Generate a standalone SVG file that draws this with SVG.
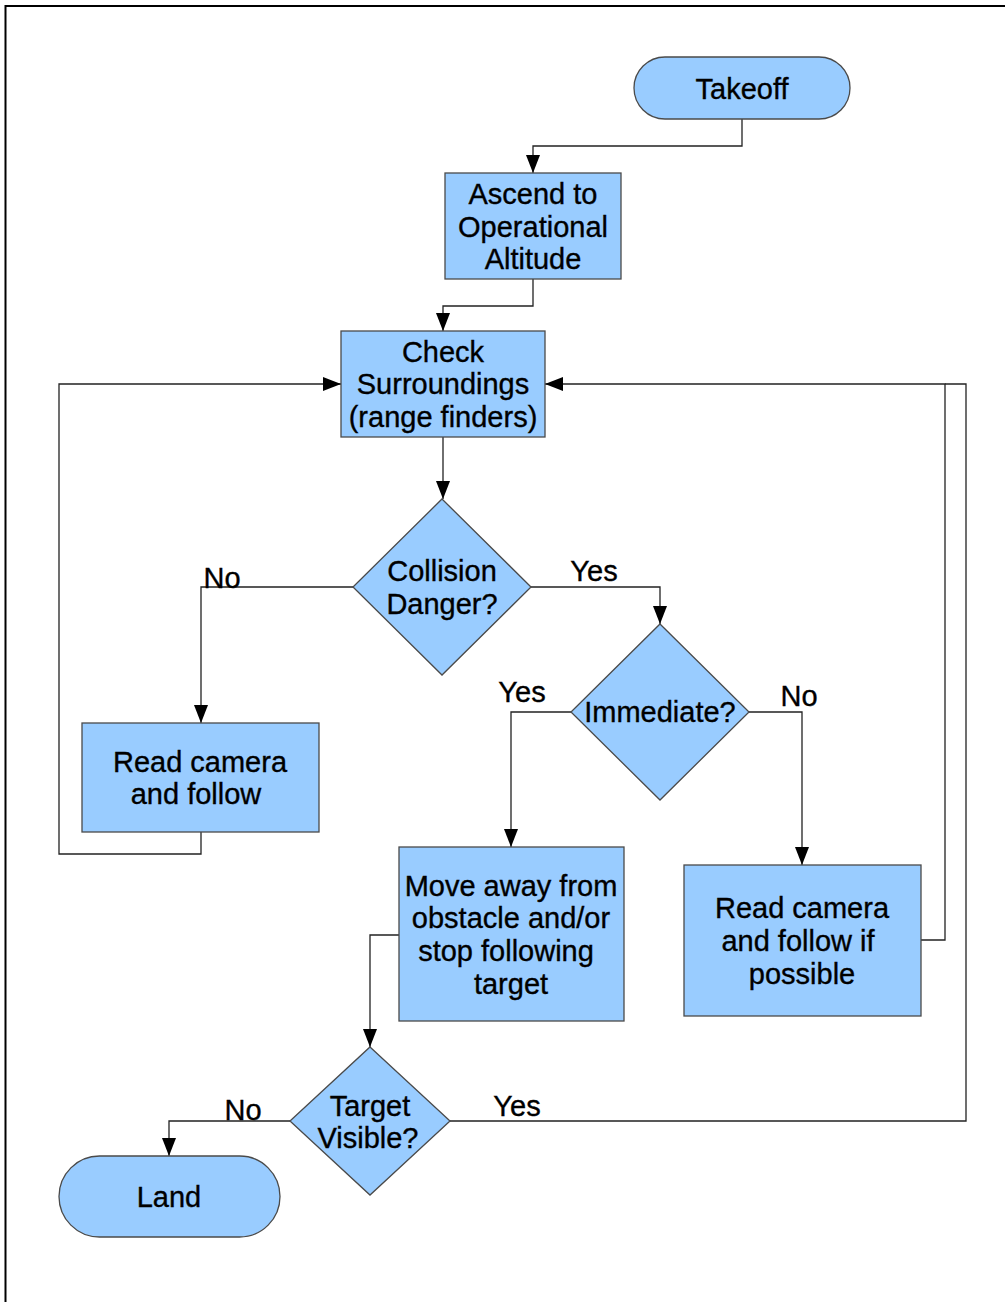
<svg xmlns="http://www.w3.org/2000/svg" width="1005" height="1302" viewBox="0 0 1005 1302">
  <defs>
    <marker id="arrow" markerUnits="userSpaceOnUse" markerWidth="18" markerHeight="14" refX="18" refY="7" orient="auto">
      <path d="M0,0 L18,7 L0,14 z" fill="#000"/>
    </marker>
    <style>
      .shape { fill: #99ccff; stroke: #4a4a4a; stroke-width: 1.3; }
      .label { font-family: "Liberation Sans", Arial, sans-serif; font-size: 29px; fill: #000; stroke: #000; stroke-width: 0.35; text-anchor: middle; }
      .edge { fill: none; stroke: #222; stroke-width: 1.3; }
      .edge-arrow { marker-end: url(#arrow); }
    </style>
  </defs>

  <rect width="1005" height="1302" fill="#fff"/>
  <!-- page frame -->
  <path d="M5.5,1302 V6 H1005" fill="none" stroke="#000" stroke-width="2"/>

  <g id="connectors">
    <path class="edge edge-arrow" d="M742,119 V146 H533 V173"/>
    <path class="edge edge-arrow" d="M533,279 V306 H443 V331"/>
    <path class="edge edge-arrow" d="M443,437 V499"/>
    <path class="edge edge-arrow" d="M353,587 H201 V723"/>
    <path class="edge edge-arrow" d="M531,587 H660 V624"/>
    <path class="edge edge-arrow" d="M571,712 H511 V847"/>
    <path class="edge edge-arrow" d="M749,712 H802 V865"/>
    <path class="edge edge-arrow" d="M201,832 V854 H59 V384 H341"/>
    <path class="edge edge-arrow" d="M399,935 H370 V1047"/>
    <path class="edge edge-arrow" d="M921,940 H945 V384 H545"/>
    <path class="edge" d="M450,1121 H966 V384 H945"/>
    <path class="edge edge-arrow" d="M290,1121 H169 V1156"/>
    <text class="label" x="222" y="588">No</text>
    <text class="label" x="594" y="581">Yes</text>
    <text class="label" x="522" y="702">Yes</text>
    <text class="label" x="799" y="706">No</text>
    <text class="label" x="243" y="1120">No</text>
    <text class="label" x="517" y="1116">Yes</text>
  </g>

  <g id="takeoff">
    <rect class="shape" x="634" y="57" width="216" height="62" rx="31" ry="31"/>
    <text class="label" x="742" y="99">Takeoff</text>
  </g>

  <g id="ascend">
    <rect class="shape" x="445" y="173" width="176" height="106"/>
    <text class="label" x="533" y="204">Ascend to</text>
    <text class="label" x="533" y="237">Operational</text>
    <text class="label" x="533" y="269">Altitude</text>
  </g>

  <g id="check-surroundings">
    <rect class="shape" x="341" y="331" width="204" height="106"/>
    <text class="label" x="443" y="362">Check</text>
    <text class="label" x="443" y="394">Surroundings</text>
    <text class="label" x="443" y="427">(range finders)</text>
  </g>

  <g id="collision-danger">
    <polygon class="shape" points="442,499 531,587 442,675 353,587"/>
    <text class="label" x="442" y="581">Collision</text>
    <text class="label" x="442" y="614">Danger?</text>
  </g>

  <g id="immediate">
    <polygon class="shape" points="660,624 749,712 660,800 571,712"/>
    <text class="label" x="660" y="722">Immediate?</text>
  </g>

  <g id="read-camera-follow">
    <rect class="shape" x="82" y="723" width="237" height="109"/>
    <text class="label" x="200" y="772">Read camera</text>
    <text class="label" x="196" y="804">and follow</text>
  </g>

  <g id="move-away">
    <rect class="shape" x="399" y="847" width="225" height="174"/>
    <text class="label" x="511" y="896">Move away from</text>
    <text class="label" x="511" y="928">obstacle and/or</text>
    <text class="label" x="506" y="961">stop following</text>
    <text class="label" x="511" y="994">target</text>
  </g>

  <g id="read-camera-if-possible">
    <rect class="shape" x="684" y="865" width="237" height="151"/>
    <text class="label" x="802" y="918">Read camera</text>
    <text class="label" x="798" y="951">and follow if</text>
    <text class="label" x="802" y="984">possible</text>
  </g>

  <g id="target-visible">
    <polygon class="shape" points="370,1047 450,1121 370,1195 290,1121"/>
    <text class="label" x="370" y="1116">Target</text>
    <text class="label" x="368" y="1148">Visible?</text>
  </g>

  <g id="land">
    <rect class="shape" x="59" y="1156" width="221" height="81" rx="40.5" ry="40.5"/>
    <text class="label" x="169" y="1207">Land</text>
  </g>
</svg>
